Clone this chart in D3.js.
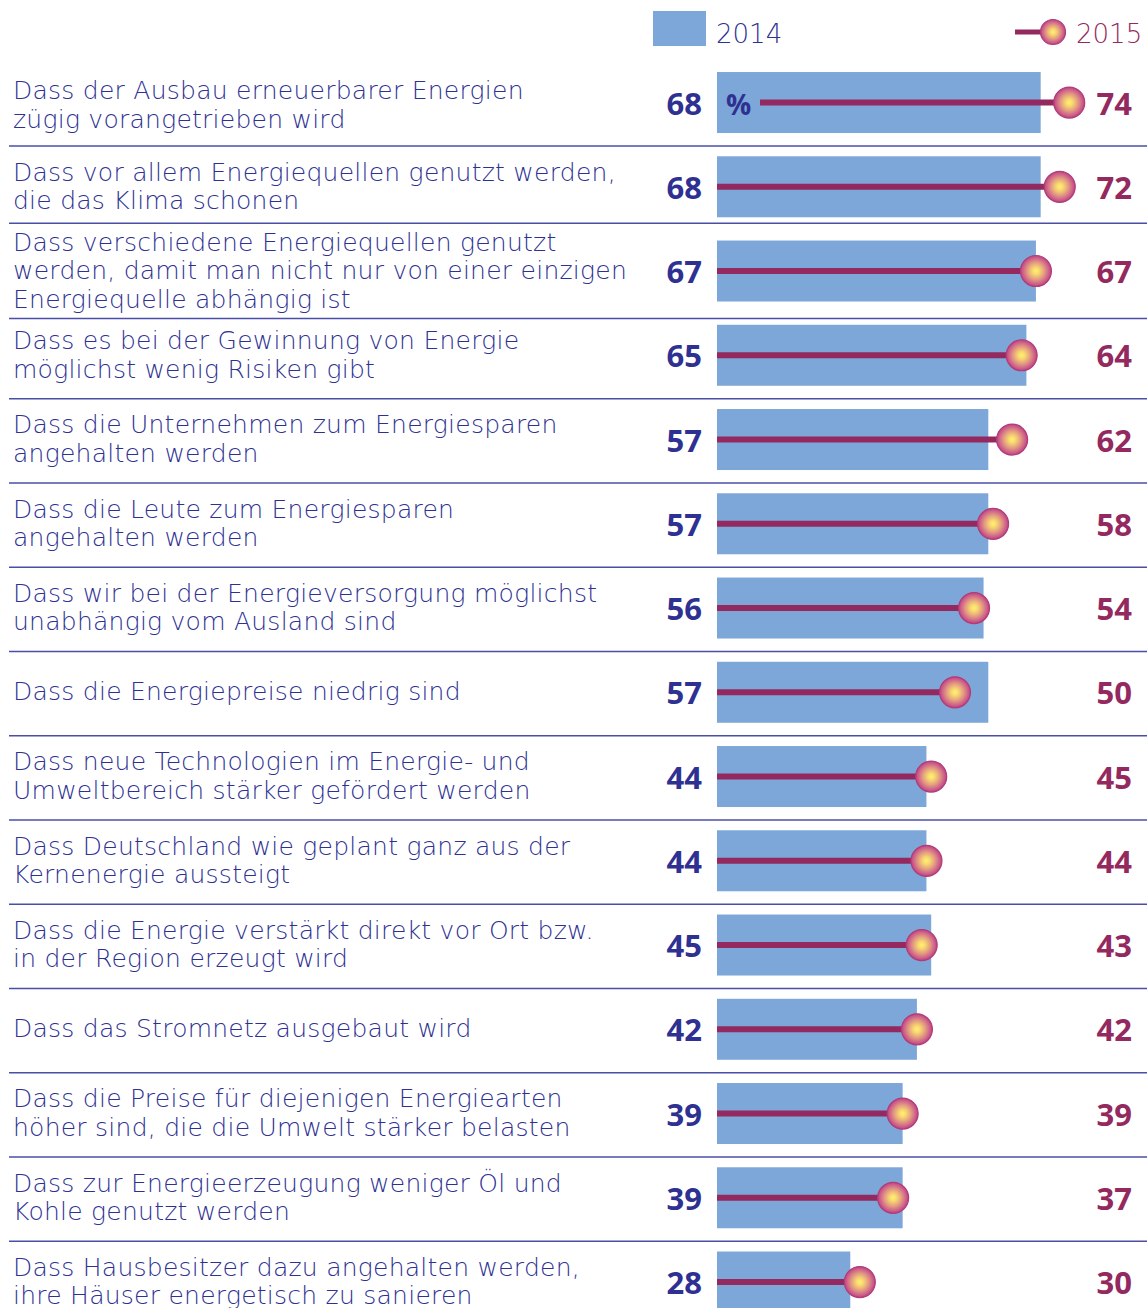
<!doctype html>
<html>
<head>
<meta charset="utf-8">
<title>Energiewende</title>
<script src="https://cdn.jsdelivr.net/npm/d3@7"></script>
<style>
  body { margin: 0; background: #fff; }
  svg { display: block; }
</style>
</head>
<body>
<svg width="1147" height="1308"></svg>
<script>
// categories, each split into its printed lines
var labels = [
  ["Dass der Ausbau erneuerbarer Energien", "zügig vorangetrieben wird"],
  ["Dass vor allem Energiequellen genutzt werden,", "die das Klima schonen"],
  ["Dass verschiedene Energiequellen genutzt", "werden, damit man nicht nur von einer einzigen", "Energiequelle abhängig ist"],
  ["Dass es bei der Gewinnung von Energie", "möglichst wenig Risiken gibt"],
  ["Dass die Unternehmen zum Energiesparen", "angehalten werden"],
  ["Dass die Leute zum Energiesparen", "angehalten werden"],
  ["Dass wir bei der Energieversorgung möglichst", "unabhängig vom Ausland sind"],
  ["Dass die Energiepreise niedrig sind"],
  ["Dass neue Technologien im Energie- und", "Umweltbereich stärker gefördert werden"],
  ["Dass Deutschland wie geplant ganz aus der", "Kernenergie aussteigt"],
  ["Dass die Energie verstärkt direkt vor Ort bzw.", "in der Region erzeugt wird"],
  ["Dass das Stromnetz ausgebaut wird"],
  ["Dass die Preise für diejenigen Energiearten", "höher sind, die die Umwelt stärker belasten"],
  ["Dass zur Energieerzeugung weniger Öl und", "Kohle genutzt werden"],
  ["Dass Hausbesitzer dazu angehalten werden,", "ihre Häuser energetisch zu sanieren"]
];
var values2014 = [68, 68, 67, 65, 57, 57, 56, 57, 44, 44, 45, 42, 39, 39, 28];
var values2015 = [74, 72, 67, 64, 62, 58, 54, 50, 45, 44, 43, 42, 39, 37, 30];
var seriesNames = ["2014", "2015"];
var unitLabel = "%";

var blue = "#2e3192";
var purple = "#93295e";
var barColor = "#7da7d8";
var labelFont = "'DejaVu Sans', sans-serif";
var numFont = "'Open Sans', sans-serif";

var svg = d3.select("svg");

var defs = svg.append("defs");
var grad = defs.append("radialGradient").attr("id", "ball");
grad.append("stop").attr("offset", "0%").attr("stop-color", "#fff36a");
grad.append("stop").attr("offset", "22%").attr("stop-color", "#f8d872");
grad.append("stop").attr("offset", "55%").attr("stop-color", "#e39c80");
grad.append("stop").attr("offset", "85%").attr("stop-color", "#cd5e8a");
grad.append("stop").attr("offset", "100%").attr("stop-color", "#bb4280");

var x = d3.scaleLinear().domain([0, 100]).range([717, 1193]);
var y = d3.scaleBand()
  .domain(d3.range(labels.length))
  .range([60.4, 1324.15])
  .paddingInner(0.276)
  .paddingOuter(0.138);

// separators between rows (the three-line row gets a little more room)
var seps = d3.range(labels.length - 1).map(function(i) {
  var yy = y(i) + y.bandwidth() + 13;
  if (labels[i + 1].length === 3) yy -= 7;
  if (labels[i].length === 3) yy += 4;
  return yy;
});
svg.append("g").selectAll("line").data(seps).enter().append("line")
  .attr("x1", 9).attr("x2", 1147)
  .attr("y1", function(d) { return d; })
  .attr("y2", function(d) { return d; })
  .attr("stroke", "#4a4ea6")
  .attr("stroke-width", 1.5);

var rows = svg.append("g").selectAll("g").data(labels).enter().append("g")
  .attr("transform", function(d, i) { return "translate(0," + (y(i) + y.bandwidth() / 2) + ")"; });

// category labels
rows.append("text")
  .attr("x", 13)
  .attr("font-family", labelFont)
  .attr("font-weight", 200)
  .attr("font-size", 25)
  .attr("letter-spacing", 0.25)
  .attr("fill", blue)
  .each(function(d, i) {
    var t = d3.select(this);
    var lh = 28.5;
    var start = (i === 0 ? 11 : 8) - (d.length - 1) * lh / 2;
    d.forEach(function(line, k) {
      t.append("tspan").attr("x", 13).attr("y", start + k * lh).text(line);
    });
  });

// 2014 bars
rows.append("rect")
  .attr("x", x(0))
  .attr("y", -y.bandwidth() / 2)
  .attr("width", function(d, i) { return x(values2014[i]) - x(0); })
  .attr("height", y.bandwidth())
  .attr("fill", barColor);

// 2014 values
rows.append("text")
  .attr("x", 702)
  .attr("y", 12)
  .attr("text-anchor", "end")
  .attr("font-family", numFont)
  .attr("font-weight", 700)
  .attr("font-size", 31)
  .attr("fill", blue)
  .text(function(d, i) { return values2014[i]; });

// percent sign in the first bar
rows.filter(function(d, i) { return i === 0; }).append("text")
  .attr("x", 726)
  .attr("y", 12)
  .attr("font-family", numFont)
  .attr("font-weight", 700)
  .attr("font-size", 28)
  .attr("fill", blue)
  .text(unitLabel);

// 2015 lines + balls
rows.append("line")
  .attr("x1", function(d, i) { return i === 0 ? 760 : x(0); })
  .attr("x2", function(d, i) { return x(values2015[i]); })
  .attr("y1", 0).attr("y2", 0)
  .attr("stroke", purple)
  .attr("stroke-width", 6);

rows.append("circle")
  .attr("cx", function(d, i) { return x(values2015[i]); })
  .attr("cy", 0)
  .attr("r", 15.5)
  .attr("fill", "url(#ball)")
  .attr("stroke", "#b03c78")
  .attr("stroke-width", 1.2);

// 2015 values
rows.append("text")
  .attr("x", 1132)
  .attr("y", 12)
  .attr("text-anchor", "end")
  .attr("font-family", numFont)
  .attr("font-weight", 700)
  .attr("font-size", 31)
  .attr("fill", purple)
  .text(function(d, i) { return values2015[i]; });

// legend
var legend = svg.append("g");
legend.append("rect")
  .attr("x", 653).attr("y", 11).attr("width", 53).attr("height", 35)
  .attr("fill", barColor);
legend.append("text")
  .attr("x", 716).attr("y", 43)
  .attr("font-family", labelFont).attr("font-weight", 200).attr("font-size", 26)
  .attr("fill", blue)
  .text(seriesNames[0]);
legend.append("line")
  .attr("x1", 1015).attr("x2", 1045).attr("y1", 32).attr("y2", 32)
  .attr("stroke", purple).attr("stroke-width", 5);
legend.append("circle")
  .attr("cx", 1053).attr("cy", 32).attr("r", 12.5)
  .attr("fill", "url(#ball)")
  .attr("stroke", "#b03c78").attr("stroke-width", 1.2);
legend.append("text")
  .attr("x", 1076).attr("y", 43)
  .attr("font-family", labelFont).attr("font-weight", 200).attr("font-size", 26)
  .attr("fill", purple)
  .text(seriesNames[1]);
</script>
</body>
</html>
